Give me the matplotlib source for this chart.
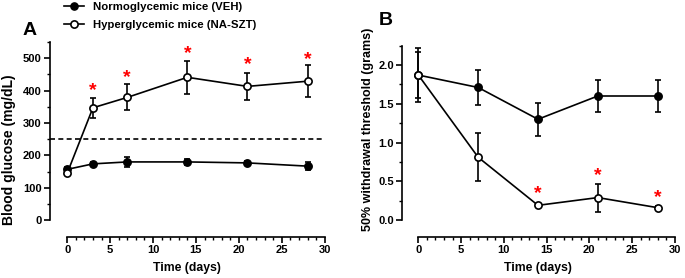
import matplotlib
matplotlib.use("Agg")
import matplotlib.pyplot as plt
import numpy as np
from matplotlib.ticker import FixedLocator, FormatStrFormatter
from matplotlib.lines import Line2D

plt.rcParams['font.family'] = ['Liberation Sans', 'DejaVu Sans']
plt.rcParams['font.weight'] = 'bold'
plt.rcParams['axes.labelweight'] = 'bold'

# Panel A: blood glucose
days_a = [0, 3, 7, 14, 21, 28]
veh_glucose = [157, 174, 180, 180, 177, 167]
veh_glucose_err = [8, 6, 15, 8, 7, 13]
szt_glucose = [145, 347, 379, 441, 413, 429]
szt_glucose_err = [6, 31, 40, 51, 41, 49]
stars_a_days = [3, 7, 14, 21, 28]
stars_a_y = [399, 441, 515, 481, 497]
threshold_glucose = 250

# Panel B: withdrawal threshold
days_b = [0, 7, 14, 21, 28]
veh_thresh = [1.87, 1.71, 1.30, 1.60, 1.60]
veh_thresh_err = [0.35, 0.23, 0.21, 0.21, 0.21]
szt_thresh = [1.87, 0.81, 0.19, 0.29, 0.16]
szt_thresh_err = [0.30, 0.31, 0.02, 0.18, 0.02]
stars_b_days = [14, 21, 28]
stars_b_y = [0.34, 0.57, 0.29]

LW = 1.2
MS = 5.2


def style_axis(ax, ytop, ymajor, yminor):
    for s in ['top', 'right']:
        ax.spines[s].set_visible(False)
    ax.spines['left'].set_linewidth(LW)
    ax.spines['bottom'].set_linewidth(LW)
    ax.spines['left'].set_bounds(0, ytop)
    ax.spines['bottom'].set_bounds(0, 30)
    ax.xaxis.set_major_locator(FixedLocator(np.arange(0, 31, 5)))
    ax.xaxis.set_minor_locator(FixedLocator(np.arange(0, 31, 1)))
    ax.yaxis.set_major_locator(FixedLocator(np.arange(0, ytop + 1e-9, ymajor)))
    ax.yaxis.set_minor_locator(FixedLocator(np.arange(0, ytop + 1e-9, yminor)))
    ax.tick_params(which='major', length=4, width=LW, labelsize=8, pad=2)
    ax.tick_params(which='minor', length=2.2, width=1.0)
    for lab in ax.get_xticklabels() + ax.get_yticklabels():
        lab.set_fontweight('bold')


def draw_series(ax, x, y, err, filled):
    ax.errorbar(x, y, yerr=err, color='black', lw=LW, elinewidth=LW,
                capsize=2, capthick=LW, marker='o', ms=MS,
                mfc='black' if filled else 'white', mec='black', mew=LW,
                zorder=3 if filled else 4)


fig = plt.figure(figsize=(6.85, 2.78), dpi=100)

axA = fig.add_axes([0.073, 0.147, 0.401, 0.702])
draw_series(axA, days_a, szt_glucose, szt_glucose_err, False)
draw_series(axA, days_a, veh_glucose, veh_glucose_err, True)
axA.plot([-2, 30], [threshold_glucose] * 2, ls=(0, (3, 2)), color='black', lw=LW)
for d, s in zip(stars_a_days, stars_a_y):
    axA.text(d, s, '*', color='red', fontsize=14, ha='center', va='center')
axA.set_xlim(-2, 30)
axA.set_ylim(-52, 550)
style_axis(axA, 550, 100, 50)
axA.set_xlabel('Time (days)', fontsize=8.8, labelpad=5)
fig.text(0.013, 0.46, 'Blood glucose (mg/dL)', fontsize=10, fontweight='bold',
         rotation=90, ha='center', va='center')

axB = fig.add_axes([0.587, 0.147, 0.398, 0.689])
draw_series(axB, days_b, szt_thresh, szt_thresh_err, False)
draw_series(axB, days_b, veh_thresh, veh_thresh_err, True)
for d, s in zip(stars_b_days, stars_b_y):
    axB.text(d, s, '*', color='red', fontsize=14, ha='center', va='center')
axB.set_xlim(-1.9, 30)
axB.set_ylim(-0.22, 2.25)
style_axis(axB, 2.25, 0.5, 0.25)
axB.yaxis.set_major_formatter(FormatStrFormatter('%.1f'))
axB.set_xlabel('Time (days)', fontsize=8.8, labelpad=5)
fig.text(0.537, 0.536, '50% withdrawal threshold (grams)', fontsize=9,
         fontweight='bold', rotation=90, ha='center', va='center')

fig.text(0.033, 0.89, 'A', fontsize=14, fontweight='bold', va='center')
fig.text(0.553, 0.925, 'B', fontsize=14, fontweight='bold', va='center')

handles = [
    Line2D([], [], color='black', lw=LW, marker='o', ms=MS, mfc='black', mec='black'),
    Line2D([], [], color='black', lw=LW, marker='o', ms=MS, mfc='white', mec='black', mew=LW),
]
labels = ['Normoglycemic mice (VEH)', 'Hyperglycemic mice (NA-SZT)']
fig.legend(handles, labels, loc='upper left', bbox_to_anchor=(0.078, 1.03),
           frameon=False, handlelength=1.8, handletextpad=0.8,
           labelspacing=0.75, prop={'weight': 'bold', 'size': 8.2})

fig.savefig('out.png', dpi=100)
